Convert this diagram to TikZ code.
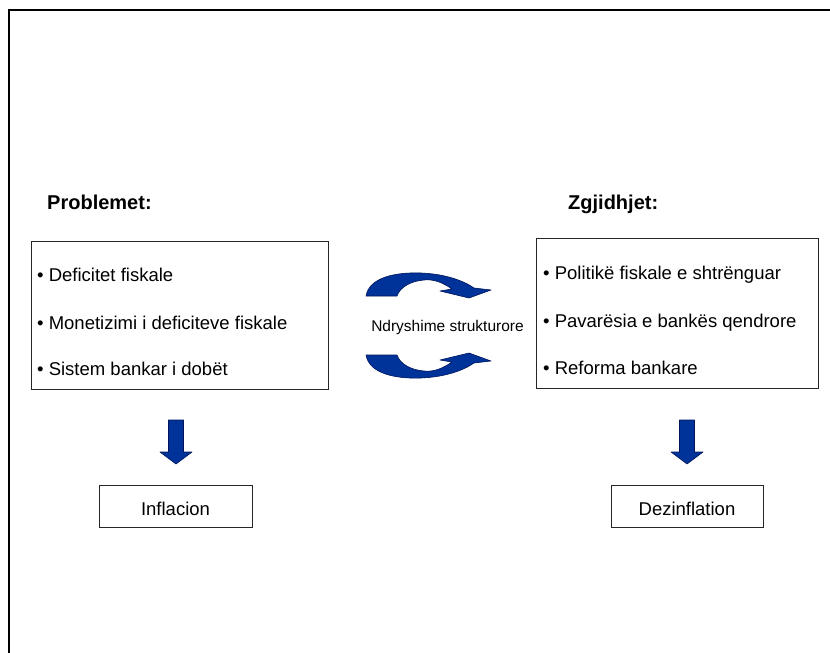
\documentclass[tikz,border=0pt]{standalone}
\usepackage{fontspec}
\setmainfont{Liberation Sans}
\definecolor{arrblue}{RGB}{0,51,153}
\definecolor{arredge}{RGB}{0,20,90}
\begin{document}
\begin{tikzpicture}[x=1pt,y=-1pt,
  box/.style={draw=black!85, line width=0.9pt, rectangle, inner sep=0pt},
  item/.style={anchor=base west, font=\fontsize{18.5}{22}\selectfont, inner sep=0pt},
  heading/.style={anchor=base west, font=\fontsize{20}{24}\selectfont\bfseries, inner sep=0pt},
  plain/.style={anchor=base, inner sep=0pt},
  blockarrow/.style={fill=arrblue, draw=arredge, line width=0.6pt, line join=round},
]
\useasboundingbox (0,0) rectangle (830,653);
\draw[line width=2pt] (9,653) -- (9,10) -- (830,10);

% headings
\node[heading] (probT) at (47,209) {Problemet:};
\node[heading] (zgjT) at (568,209) {Zgjidhjet:};

% problem box
\node[box, minimum width=297, minimum height=148] (prob) at (179.5,315) {};
\node[item] (p1) at (37,281.5) {• Deficitet fiskale};
\node[item] (p2) at (37,329.5) {• Monetizimi i deficiteve fiskale};
\node[item] (p3) at (37,375.5) {• Sistem bankar i dobët};

% solution box
\node[box, minimum width=282, minimum height=150] (sol) at (677,313) {};
\node[item] (s1) at (543,279.5) {• Politikë fiskale e shtrënguar};
\node[item] (s2) at (543,327.5) {• Pavarësia e bankës qendrore};
\node[item] (s3) at (543,374.5) {• Reforma bankare};

% middle label
\node[plain, font=\fontsize{15.5}{18}\selectfont] (mid) at (447.5,331.5) {Ndryshime strukturore};

% outcome boxes
\node[box, minimum width=153, minimum height=42] (infl) at (175.5,506) {};
\node[plain, font=\fontsize{18.5}{22}\selectfont] (inflT) at (175.5,515) {Inflacion};
\node[box, minimum width=152, minimum height=42] (dez) at (687,506) {};
\node[plain, font=\fontsize{18.5}{22}\selectfont] (dezT) at (687,515) {Dezinflation};

% down block arrows
\def\downarrow#1{%
  \path[blockarrow] (#1-7.5,420) -- (#1+7.5,420) -- (#1+7.5,452) -- (#1+16,452)
    -- (#1,464) -- (#1-16,452) -- (#1-7.5,452) -- cycle;}
\downarrow{176}
\downarrow{687}

% curved block arrows
\def\curvedpath{(366,296) .. controls (369,278) and (394,272) .. (421,273)
  .. controls (446,274) and (464,281) .. (474,288) -- (491,290) -- (469,298)
  -- (440,291) -- (452,289) .. controls (442,282) and (433,279) .. (424,280)
  .. controls (411,281) and (400,287) .. (397,296) -- cycle}
\path[blockarrow] \curvedpath;
\begin{scope}[shift={(0,651)}, yscale=-1]
\path[blockarrow] \curvedpath;
\end{scope}
\end{tikzpicture}
\end{document}
